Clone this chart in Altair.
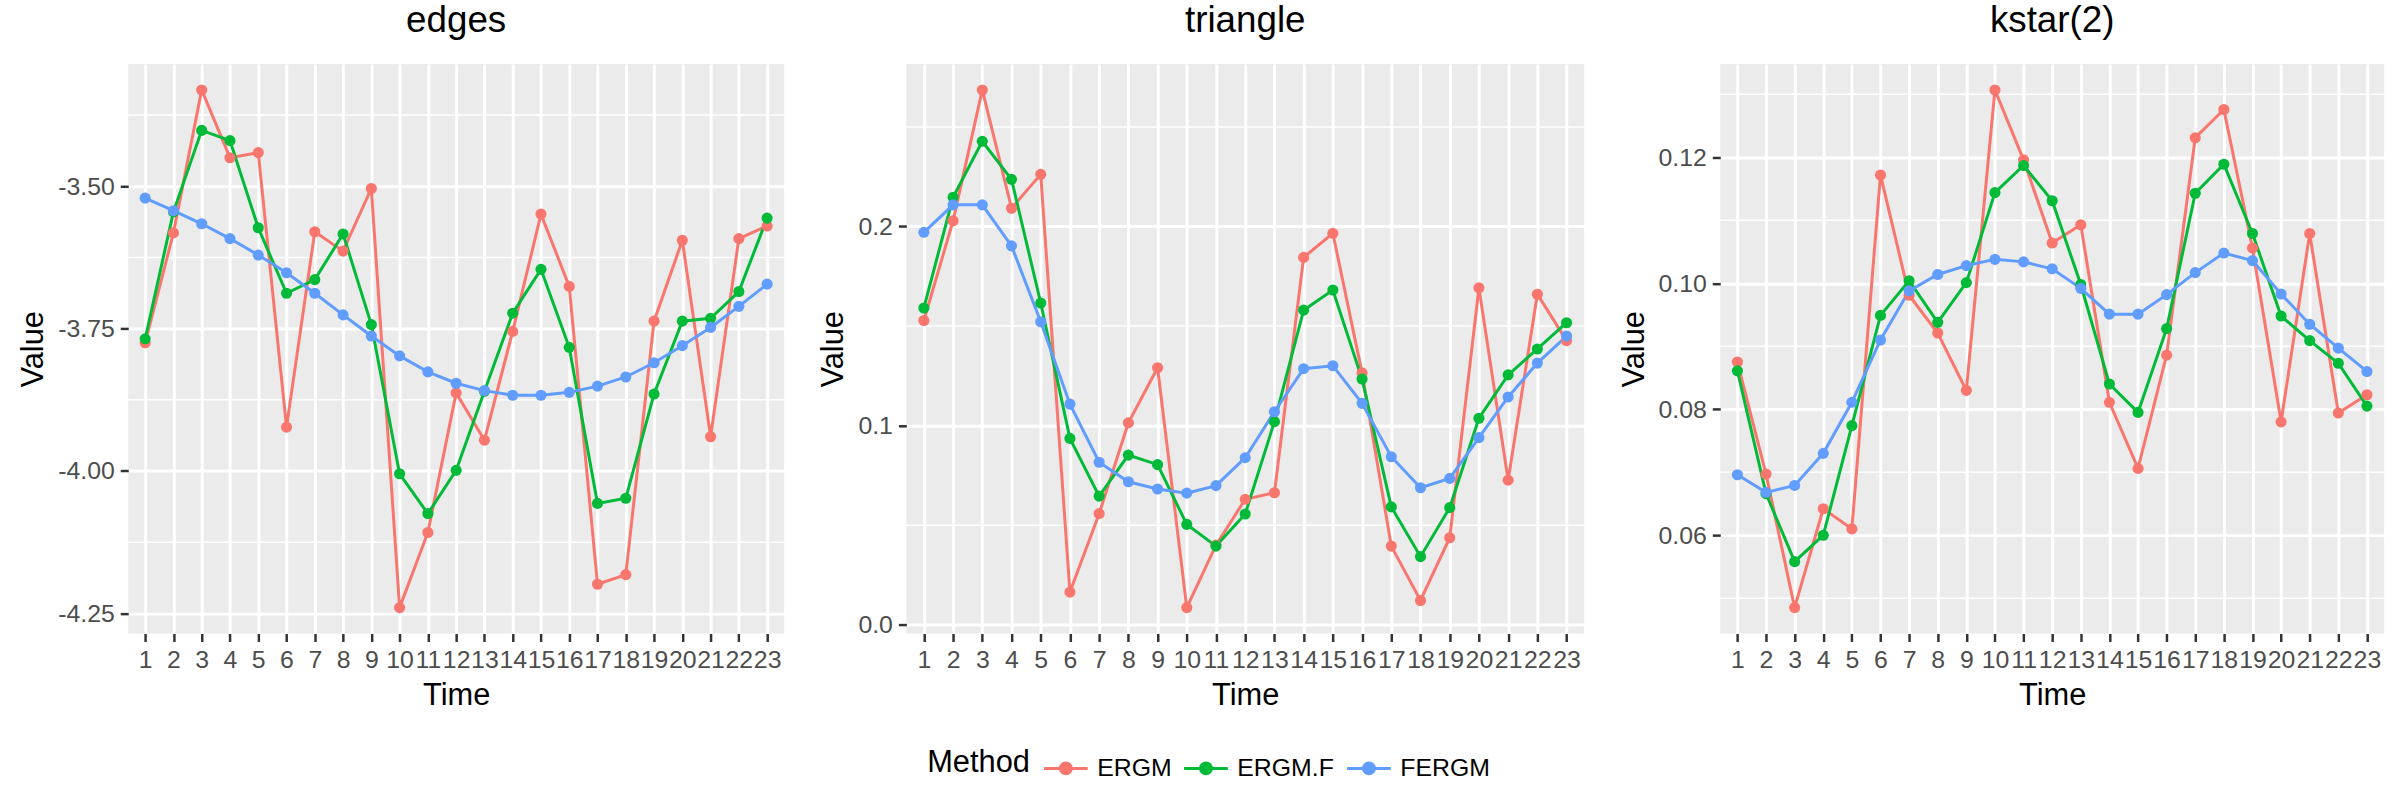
import altair as alt
import pandas as pd

methods = ["ERGM", "ERGM.F", "FERGM"]
colors = ["#F8766D", "#00BA38", "#619CFF"]
time = list(range(1, 24))

edges_ergm = [-3.775, -3.582, -3.331, -3.450, -3.441, -3.923, -3.580, -3.614, -3.504, -4.240,
              -4.108, -3.863, -3.946, -3.755, -3.549, -3.676, -4.199, -4.182, -3.737, -3.595,
              -3.940, -3.592, -3.570]
edges_ergmf = [-3.768, -3.545, -3.402, -3.420, -3.573, -3.688, -3.664, -3.584, -3.743, -4.005,
               -4.075, -3.999, -3.860, -3.723, -3.646, -3.783, -4.057, -4.048, -3.865, -3.737,
               -3.732, -3.685, -3.556]
edges_fergm = [-3.521, -3.543, -3.566, -3.592, -3.621, -3.652, -3.688, -3.726, -3.763, -3.798,
               -3.826, -3.846, -3.859, -3.867, -3.867, -3.862, -3.851, -3.835, -3.810, -3.780,
               -3.748, -3.711, -3.672]

tri_ergm = [0.1528, 0.2029, 0.2686, 0.2092, 0.2262, 0.0164, 0.0558, 0.1014, 0.1291, 0.0086,
            0.0400, 0.0630, 0.0663, 0.1845, 0.1966, 0.1265, 0.0395, 0.0122, 0.0437, 0.1692,
            0.0726, 0.1660, 0.1427]
tri_ergmf = [0.1591, 0.2147, 0.2428, 0.2237, 0.1616, 0.0936, 0.0646, 0.0852, 0.0804, 0.0504,
             0.0395, 0.0556, 0.1020, 0.1580, 0.1681, 0.1234, 0.0592, 0.0342, 0.0588, 0.1037,
             0.1255, 0.1385, 0.1517]
tri_fergm = [0.1971, 0.2109, 0.2109, 0.1903, 0.1522, 0.1108, 0.0816, 0.0718, 0.0682, 0.0661,
             0.0699, 0.0839, 0.1070, 0.1286, 0.1301, 0.1112, 0.0844, 0.0688, 0.0735, 0.0940,
             0.1144, 0.1314, 0.1450]

ks_ergm = [0.0875, 0.0697, 0.0485, 0.0642, 0.0610, 0.1172, 0.0981, 0.0921, 0.0830, 0.1307,
           0.1196, 0.1064, 0.1093, 0.0811, 0.0706, 0.0886, 0.1231, 0.1276, 0.1056, 0.0780,
           0.1079, 0.0794, 0.0823]
ks_ergmf = [0.0861, 0.0666, 0.0558, 0.0600, 0.0774, 0.0949, 0.1004, 0.0938, 0.1001, 0.1144,
            0.1187, 0.1131, 0.0998, 0.0840, 0.0795, 0.0928, 0.1143, 0.1189, 0.1079, 0.0948,
            0.0909, 0.0873, 0.0805]
ks_fergm = [0.0696, 0.0668, 0.0679, 0.0730, 0.0811, 0.0910, 0.0988, 0.1014, 0.1028, 0.1038,
            0.1034, 0.1023, 0.0992, 0.0951, 0.0951, 0.0982, 0.1017, 0.1048, 0.1036, 0.0983,
            0.0935, 0.0897, 0.0860]

edges_major = [-4.25, -4.00, -3.75, -3.50]
edges_minor = [-4.125, -3.875, -3.625, -3.375]
tri_major = [0.0, 0.1, 0.2]
tri_minor = [0.05, 0.15, 0.25]
ks_major = [0.06, 0.08, 0.10, 0.12]
ks_minor = [0.05, 0.07, 0.09, 0.11, 0.13]

FONT = "Liberation Sans"


def long_df(series):
    rows = []
    for m, vals in zip(methods, series):
        for t, v in zip(time, vals):
            rows.append({"Time": t, "Value": v, "Method": m})
    return pd.DataFrame(rows)


def panel(title, series, major, minor, fmt, width):
    df = long_df(series)
    lo = min(min(s) for s in series)
    hi = max(max(s) for s in series)
    pad = (hi - lo) * 0.05
    yscale = alt.Scale(domain=[lo - pad, hi + pad], nice=False, zero=False)
    xscale = alt.Scale(domain=[0.4, 23.6], nice=False, zero=False)
    yaxis = alt.Axis(values=major, title="Value",
                     labelExpr="replace(format(datum.value, '%s'), '\u2212', '-')" % fmt)

    minor_layer = alt.Chart(pd.DataFrame({"Value": minor})).mark_rule(
        color="white", strokeWidth=1.5
    ).encode(y=alt.Y("Value:Q", scale=yscale, axis=yaxis))

    x_enc = alt.X("Time:Q", scale=xscale,
                  axis=alt.Axis(values=time, title="Time", format="d",
                                labelOverlap=False, labelBound=False,
                                labelFlush=False))
    y_enc = alt.Y("Value:Q", scale=yscale, axis=yaxis)

    line = alt.Chart(df).mark_line(strokeWidth=3).encode(
        x=x_enc, y=y_enc,
        stroke=alt.Stroke("Method:N", scale=alt.Scale(domain=methods, range=colors),
                          title="Method"),
        detail="Method:N",
    )
    pts = alt.Chart(df).mark_point(filled=True, size=125, opacity=1).encode(
        x=x_enc, y=y_enc,
        fill=alt.Fill("Method:N", scale=alt.Scale(domain=methods, range=colors),
                      title="Method"),
    )
    return alt.layer(minor_layer, line, pts).properties(
        width=width, height=573,
        title=alt.TitleParams(title, fontSize=37, font=FONT, fontWeight="normal",
                              color="black", anchor="middle", offset=24),
    )


p1 = panel("edges", [edges_ergm, edges_ergmf, edges_fergm], edges_major, edges_minor, ".2f", 660)
p2 = panel("triangle", [tri_ergm, tri_ergmf, tri_fergm], tri_major, tri_minor, ".1f", 682)
p3 = panel("kstar(2)", [ks_ergm, ks_ergmf, ks_fergm], ks_major, ks_minor, ".2f", 668)

legend_symbol = ("M-1,0L1,0M-0.25,0A0.25,0.25,0,1,1,0.25,0"
                 "A0.25,0.25,0,1,1,-0.25,0Z")

chart = alt.hconcat(p1, p2, p3, spacing=33).properties(
    padding={"left": 18, "top": 0, "right": 15, "bottom": 5}
).configure_view(
    fill="#EBEBEB", stroke=None
).configure_axis(
    domain=False, grid=True, gridColor="white", gridWidth=3,
    tickColor="#333333", tickSize=8, tickWidth=2.5,
    labelColor="#4D4D4D", labelFontSize=25, labelFont=FONT, labelPadding=6,
    titleColor="black", titleFontSize=31, titleFont=FONT, titleFontWeight="normal",
    titlePadding=8,
).configure_legend(
    orient="none", legendX=804, legendY=685, direction="horizontal",
    titleOrient="left", titleFontSize=31, titleFont=FONT, titleFontWeight="normal",
    titleColor="black", labelFontSize=25, labelFont=FONT, labelColor="black",
    symbolType=legend_symbol, symbolSize=1936, symbolStrokeWidth=3,
    labelOffset=8, columnPadding=6, titlePadding=12, titleBaseline="middle",
    symbolOpacity=1,
)

chart.save("out.html", embed_options={"renderer": "svg", "actions": False})
